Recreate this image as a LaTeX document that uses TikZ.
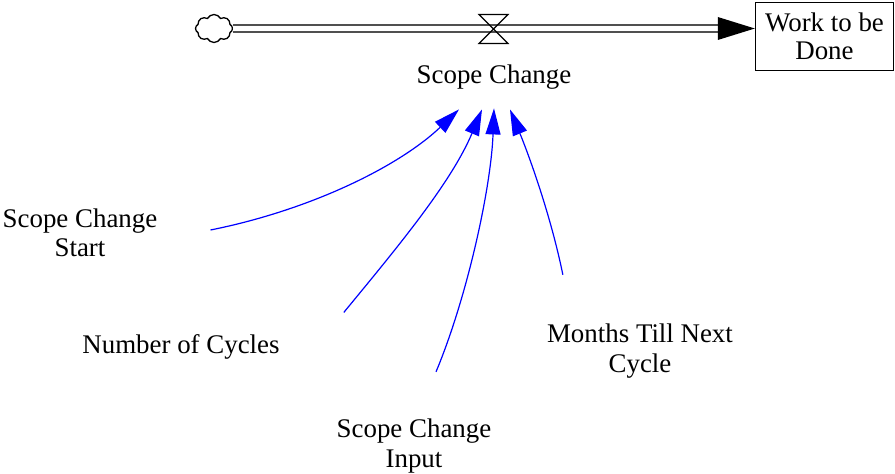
\documentclass[tikz,border=0pt]{standalone}
\usepackage{fontspec}
\setmainfont{Liberation Serif}
\usetikzlibrary{arrows.meta,shapes.symbols,calc}

\definecolor{linkblue}{RGB}{0,0,255}
\definecolor{pipegray}{RGB}{80,80,80}

\tikzset{
  lbl/.style={font=\fontsize{26.9pt}{29.5pt}\selectfont, align=center, inner sep=0pt},
  link/.style={draw=linkblue, line width=1.2pt, -{Triangle[length=26pt,width=15pt]}},
  pipe/.style={draw=pipegray, line width=1.5pt, double=white, double distance=5.1pt},
  valvestyle/.style={draw=black, line width=1.2pt, line join=miter},
  stockbox/.style={draw=black, line width=1.4pt, minimum width=138pt, minimum height=68pt, inner sep=0pt,
                   font=\fontsize{26.9pt}{28.5pt}\selectfont, align=center},
  source/.style={cloud, cloud puffs=8, cloud puff arc=125, draw=black, line width=1.3pt,
                 minimum width=37pt, minimum height=28pt, inner sep=0pt}
}

\begin{document}
\begin{tikzpicture}[x=1pt,y=1pt]
  \useasboundingbox (0,0) rectangle (895,474);

  % stock, source cloud and flow
  \node[stockbox] (stock) at (824.5,437.5) {Work to be\\Done};
  \node[source] (cloud) at (214,445.5) {};
  \coordinate (tip) at (cloud.east -| stock.west);
  \coordinate (valve) at (493.5,445);
  \draw[pipe] (cloud.east) -- ($(tip)+(-36,0)$);
  \fill[black] (tip) -- ++(-37,11.5) -- ++(0,-23) -- cycle;
  \draw[valvestyle] (valve) -- ++(-14.5,14.5) -- ++(29,0) -- cycle;
  \draw[valvestyle] (valve) -- ++(-14.5,-14.5) -- ++(29,0) -- cycle;

  % rate and auxiliaries
  \node[lbl] (sc) at (494,397) {Scope Change};
  \node[lbl] (start) at (80,241) {Scope Change\\Start};
  \node[lbl] (cycles) at (181,127) {Number of Cycles};
  \node[lbl] (input) at (414,28) {Scope Change\\Input};
  \node[lbl] (months) at (640,123) {Months Till Next\\Cycle};

  % information links into the rate
  \draw[link] ($(start.east)+(53,3)$)
      .. controls ++(100,20) and ($(sc.south)+(-95,-77)$) .. ($(sc.south)+(-35,-20)$);
  \draw[link] ($(cycles.north east)+(64,22)$)
      .. controls ++(51,62) and ($(sc.south)+(-43,-94)$) .. ($(sc.south)+(-12,-20)$);
  \draw[link] ($(input.north)+(22,47)$)
      .. controls ++(31,74) and ($(sc.south)+(-3,-99)$) .. ($(sc.south)+(0,-19)$);
  \draw[link] ($(months.north west)+(16,49)$)
      .. controls ++(-12,59) and ($(sc.south)+(35,-66)$) .. ($(sc.south)+(16,-20)$);
\end{tikzpicture}
\end{document}
